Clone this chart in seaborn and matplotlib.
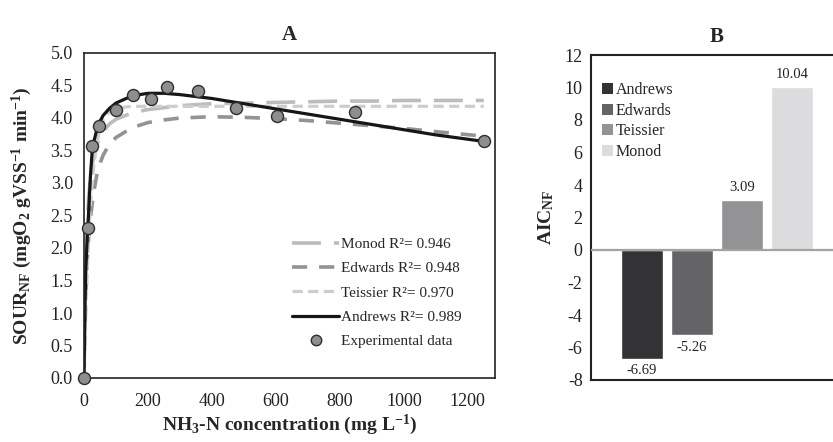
import numpy as np
import pandas as pd
import matplotlib
matplotlib.use("Agg")
import matplotlib.pyplot as plt
from matplotlib.lines import Line2D
from matplotlib.patches import Patch
import seaborn as sns

# ---- Panel A: substrate concentration vs. specific oxygen uptake rate ----
conc_exp = [0, 12, 25, 46, 100, 154, 208, 258, 355, 475, 604, 848, 1250]
sour_exp = [0, 2.30, 3.57, 3.88, 4.12, 4.36, 4.29, 4.47, 4.41, 4.16, 4.03, 4.09, 3.65]

conc_fit = [0, 2, 5, 10, 15, 20, 25, 30, 40, 50, 60, 80, 100, 150, 200, 250,
            300, 400, 500, 600, 700, 800, 900, 1000, 1100, 1250]
sour_monod = [0, 0.86, 1.65, 2.39, 2.80, 3.07, 3.26, 3.39, 3.58, 3.71, 3.79, 3.91,
              3.98, 4.08, 4.13, 4.16, 4.19, 4.22, 4.23, 4.24, 4.25, 4.26, 4.26,
              4.27, 4.27, 4.27]
sour_edwards = [0, 0.50, 1.15, 1.80, 2.20, 2.45, 2.65, 2.85, 3.12, 3.30, 3.43, 3.60,
                3.70, 3.85, 3.93, 3.97, 4.00, 4.02, 4.01, 3.99, 3.96, 3.92, 3.88,
                3.84, 3.79, 3.72]
sour_teissier = [0, 0.40, 0.92, 1.64, 2.21, 2.64, 2.98, 3.25, 3.61, 3.84, 3.97, 4.10,
                 4.15, 4.18, 4.18, 4.18, 4.18, 4.18, 4.18, 4.18, 4.18, 4.18, 4.18,
                 4.18, 4.18, 4.18]
sour_andrews = [0, 0.75, 1.60, 2.15, 2.60, 3.10, 3.45, 3.62, 3.82, 3.95, 4.04, 4.15,
                4.23, 4.34, 4.38, 4.38, 4.36, 4.30, 4.22, 4.14, 4.06, 3.98, 3.90,
                3.82, 3.74, 3.64]

fit_labels = ["Monod R²= 0.946", "Edwards R²= 0.948",
              "Teissier R²= 0.970", "Andrews R²= 0.989"]
exp_label = "Experimental data"

# ---- Panel B: Akaike information criterion per model ----
aic_models = ["Andrews", "Edwards", "Teissier", "Monod"]
aic_values = [-6.69, -5.26, 3.09, 10.04]
aic_colors = ["#333234", "#646466", "#939396", "#dcdcde"]

sns.set_theme(style="white")
plt.rcParams["font.family"] = ["Liberation Serif", "DejaVu Serif"]
plt.rcParams["mathtext.fontset"] = "custom"
plt.rcParams["mathtext.rm"] = "Liberation Serif"
plt.rcParams["mathtext.it"] = "Liberation Serif:italic"
plt.rcParams["mathtext.bf"] = "Liberation Serif:bold"
plt.rcParams["mathtext.default"] = "bf"
plt.rcParams["axes.unicode_minus"] = False

W, H = 833, 442
fig = plt.figure(figsize=(W / 100, H / 100), dpi=100)
axA = fig.add_axes([84 / W, 1 - 378 / H, (495 - 84) / W, (378 - 53) / H])
axB = fig.add_axes([591 / W, 1 - 380 / H, (842 - 591) / W, (380 - 55) / H])

fits = pd.DataFrame({
    "conc": conc_fit,
    "Monod": sour_monod,
    "Edwards": sour_edwards,
    "Teissier": sour_teissier,
    "Andrews": sour_andrews,
})

styles = {
    "Monod": dict(color="#bcbcbc", lw=2.6, ls=(0, (8, 3.6))),
    "Edwards": dict(color="#939393", lw=2.6, ls=(0, (4.2, 3.3))),
    "Teissier": dict(color="#cdcdcd", lw=2.3, ls=(0, (3.2, 1.7))),
    "Andrews": dict(color="#161616", lw=2.3, ls="-"),
}
handles = []
for name, lab in zip(["Monod", "Edwards", "Teissier", "Andrews"], fit_labels):
    st = styles[name]
    sns.lineplot(data=fits, x="conc", y=name, ax=axA, color=st["color"],
                 linewidth=st["lw"], linestyle=st["ls"], zorder=2)
    handles.append(Line2D([], [], color=st["color"], lw=st["lw"],
                          linestyle=st["ls"], label=lab))

sns.scatterplot(x=conc_exp, y=sour_exp, ax=axA, s=75, color="#8e8e8e",
                edgecolor="#2e2e2e", linewidth=1.0, zorder=4, clip_on=False)
handles.append(Line2D([], [], marker="o", ls="none", markersize=7.5,
                      markerfacecolor="#8e8e8e", markeredgecolor="#2e2e2e",
                      label=exp_label))

axA.set_xlim(0, 1285)
axA.set_ylim(0, 5.0)
axA.set_xticks(range(0, 1201, 200))
axA.set_yticks(np.arange(0, 5.01, 0.5))
axA.yaxis.set_major_formatter(matplotlib.ticker.FormatStrFormatter("%.1f"))
axA.tick_params(direction="in", length=4, width=1, colors="#222222",
                labelsize=13, labelcolor="#222222")
axA.tick_params(axis="y", pad=8)
axA.tick_params(axis="x", pad=11)
for sp in axA.spines.values():
    sp.set_color("#222222")
    sp.set_linewidth(1.2)
axA.set_xlabel("NH$_3$-N concentration (mg L$^{-1}$)", fontsize=14,
               fontweight="bold", labelpad=2)
axA.set_ylabel("SOUR$_{NF}$ (mgO$_2$ gVSS$^{-1}$ min$^{-1}$)", fontsize=14,
               fontweight="bold", labelpad=12)
axA.set_title("A", fontsize=15, fontweight="bold", pad=9)
axA.legend(handles=handles, loc="lower right", bbox_to_anchor=(0.946, 0.058),
           frameon=False, fontsize=11, handlelength=3.1, handletextpad=0.15,
           labelspacing=0.7, borderaxespad=0.3)

# Panel B bars
sns.barplot(x=aic_models, y=aic_values, hue=aic_models, palette=aic_colors,
            ax=axB, width=0.84, legend=False, saturation=1.0, zorder=2)
axB.axhline(0, color="#a3a3a3", lw=1.6, zorder=3)
for cont in axB.containers:
    axB.bar_label(cont, fmt="%.2f", padding=4, fontsize=10.5, color="#222222")
axB.set_xlim(-1.02, 4.0)
axB.set_ylim(-8, 12)
axB.set_yticks(range(-8, 13, 2))
axB.set_xticks([])
axB.set_xlabel("")
axB.tick_params(axis="y", length=0, labelsize=13, labelcolor="#222222", pad=6)
for sp in ["left", "top", "bottom"]:
    axB.spines[sp].set_color("#222222")
    axB.spines[sp].set_linewidth(1.5)
axB.spines["right"].set_visible(False)
axB.set_ylabel("AIC$_{NF}$", fontsize=14, fontweight="bold", labelpad=6)
axB.set_title("B", fontsize=15, fontweight="bold", pad=9)
bar_handles = [Patch(facecolor=c, edgecolor="none", label=m)
               for m, c in zip(aic_models, aic_colors)]
axB.legend(handles=bar_handles, loc="upper left", bbox_to_anchor=(-0.02, 0.965),
           frameon=False, fontsize=11.5, handlelength=0.7, handleheight=0.7,
           handletextpad=0.15, labelspacing=0.28, borderaxespad=0.6)

fig.savefig("out.png", dpi=100)
